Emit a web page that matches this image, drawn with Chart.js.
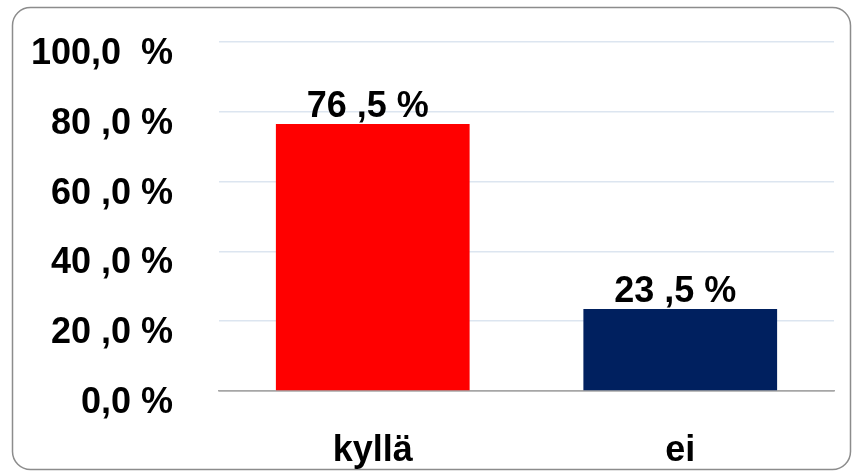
<!DOCTYPE html>
<html>
<head>
<meta charset="utf-8">
<script src="https://cdn.jsdelivr.net/npm/chart.js@4"></script>
<style>
html,body{margin:0;padding:0;background:#fff;}
#wrap{position:relative;width:852px;height:471px;}
</style>
</head>
<body>
<div id="wrap"><canvas id="c" width="852" height="471"></canvas></div>
<script>
const categories = ["kyllä", "ei"];
const values = [76.5, 23.5];
const valueLabels = ["76 ,5 %", "23 ,5 %"];
const barColors = ["#ff0000", "#00205f"];
const yTickValues = [0, 20, 40, 60, 80, 100];
const yTickLabels = ["0,0 %", "20 ,0 %", "40 ,0 %", "60 ,0 %", "80 ,0 %", "100,0  %"];

const FONT = '"Liberation Sans", Arial, sans-serif';

const frame = {
  id: 'frame',
  beforeDraw(chart) {
    const ctx = chart.ctx;
    ctx.save();
    ctx.fillStyle = '#ffffff';
    ctx.fillRect(0, 0, chart.width, chart.height);
    ctx.strokeStyle = '#8c8c8c';
    ctx.lineWidth = 1.5;
    ctx.beginPath();
    ctx.roundRect(12.5, 7.5, 838, 462, 18);
    ctx.stroke();
    ctx.restore();
  }
};

const valueLabelPlugin = {
  id: 'valueLabels',
  afterDatasetsDraw(chart) {
    const ctx = chart.ctx;
    const meta = chart.getDatasetMeta(0);
    ctx.save();
    ctx.font = 'bold 36px ' + FONT;
    ctx.fillStyle = '#000';
    ctx.textAlign = 'center';
    ctx.textBaseline = 'alphabetic';
    meta.data.forEach((bar, i) => {
      ctx.fillText(valueLabels[i], bar.x - 5, bar.y - 7);
    });
    ctx.restore();
  }
};

new Chart(document.getElementById('c'), {
  type: 'bar',
  data: {
    labels: categories,
    datasets: [{
      data: values,
      backgroundColor: barColors,
      borderWidth: 0,
      categoryPercentage: 1,
      barPercentage: 0.63
    }]
  },
  options: {
    responsive: false,
    animation: false,
    devicePixelRatio: 1,
    layout: { padding: { top: 42, right: 18, bottom: 0, left: 0 } },
    plugins: { legend: { display: false }, tooltip: { enabled: false } },
    scales: {
      x: {
        grid: { display: false },
        border: { display: true, color: '#a6a6a6', width: 1.5 },
        ticks: { color: '#000', font: { family: FONT, size: 36, weight: 'bold' }, padding: 30 },
        afterFit(s) { s.height = 80; s.paddingLeft = 0; s.paddingRight = 0; }
      },
      y: {
        min: 0, max: 100,
        afterBuildTicks(s) { s.ticks = yTickValues.map(v => ({ value: v })); },
        grid: {
          drawTicks: false,
          color: (c) => c.tick && c.tick.value === 0 ? '#a6a6a6' : '#dce5f0',
          lineWidth: 1.5
        },
        border: { display: false },
        ticks: {
          color: '#000',
          font: { family: FONT, size: 36, weight: 'bold' },
          padding: 46,
          labelOffset: 12,
          callback: (v, i) => yTickLabels[yTickValues.indexOf(v)]
        },
        afterFit(s) { s.width = 219; s.paddingTop = 0; s.paddingBottom = 0; }
      }
    }
  },
  plugins: [frame, valueLabelPlugin]
});
</script>
</body>
</html>
